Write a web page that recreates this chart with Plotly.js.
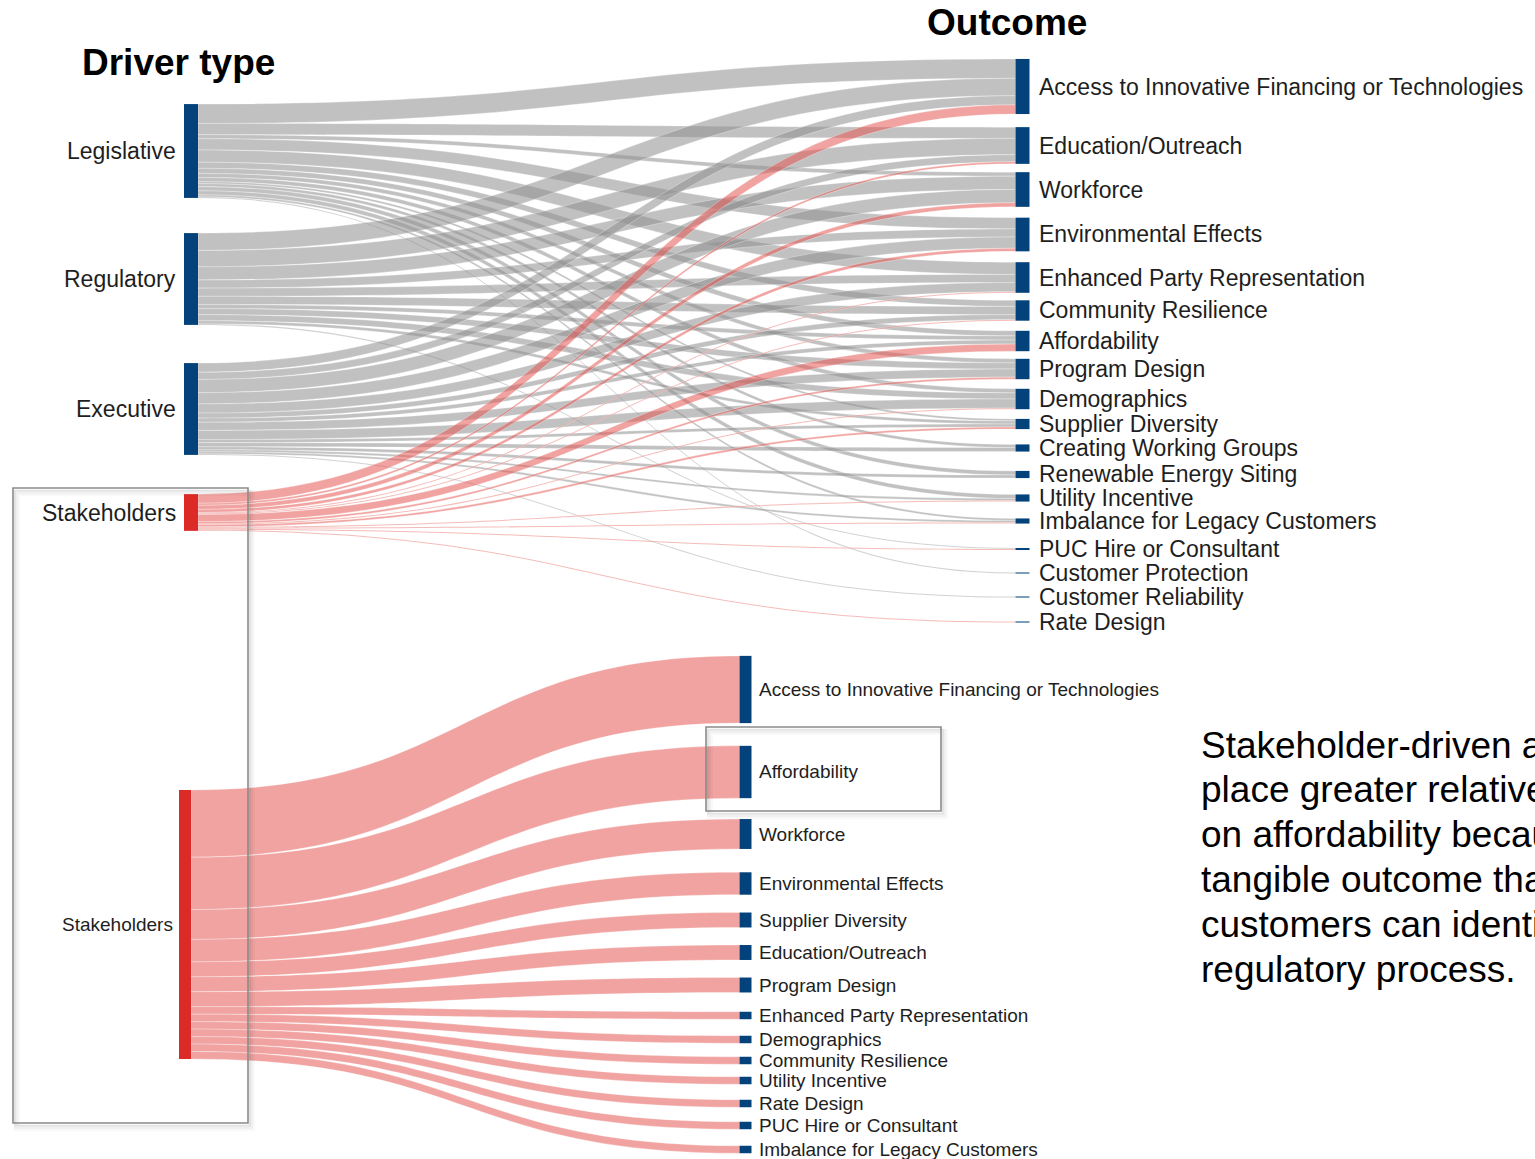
<!DOCTYPE html>
<html><head><meta charset="utf-8">
<script src="https://cdn.plot.ly/plotly-3.0.1.min.js"></script>
<style>html,body{margin:0;padding:0;background:#fff;overflow:hidden}#chart{width:1535px;height:1159px}</style>
</head><body><div id="chart"></div>
<script>
// ---------------- data ----------------
const drivers = ['Legislative', 'Regulatory', 'Executive', 'Stakeholders'];
const outcomesTop = [
  'Access to Innovative Financing or Technologies', 'Education/Outreach', 'Workforce',
  'Environmental Effects', 'Enhanced Party Representation', 'Community Resilience',
  'Affordability', 'Program Design', 'Demographics', 'Supplier Diversity',
  'Creating Working Groups', 'Renewable Energy Siting', 'Utility Incentive',
  'Imbalance for Legacy Customers', 'PUC Hire or Consultant', 'Customer Protection',
  'Customer Reliability', 'Rate Design'
];
// counts per outcome (same order as outcomesTop)
const legislativeCounts  = [19, 11, 4, 11, 12, 6, 5, 4, 4, 2, 3, 4, 4, 2, 0, 1, 0, 0];
const regulatoryCounts   = [17, 16, 13, 8, 8, 8, 4, 6, 6, 3, 0, 0, 0, 0, 1, 0, 0, 0];
const executiveCounts    = [9, 7, 13, 11, 9, 5, 4, 8, 9, 3, 4, 3, 2, 2, 0, 0, 1, 0];
const stakeholderCountsTop = [9, 2, 4, 3, 1, 1, 7, 2, 1, 2, 0, 0, 1, 1, 1, 0, 0, 1];

const stakeholderDriver = 'Stakeholders';
const outcomesBottom = [
  'Access to Innovative Financing or Technologies', 'Affordability', 'Workforce',
  'Environmental Effects', 'Supplier Diversity', 'Education/Outreach', 'Program Design',
  'Enhanced Party Representation', 'Demographics', 'Community Resilience',
  'Utility Incentive', 'Rate Design', 'PUC Hire or Consultant', 'Imbalance for Legacy Customers'
];
const stakeholderCountsBottom = [9, 7, 4, 3, 2, 2, 2, 1, 1, 1, 1, 1, 1, 1];

const titleLeft = 'Driver type';
const titleRight = 'Outcome';
const noteLines = [
  'Stakeholder-driven actions',
  'place greater relative emphasis',
  'on affordability because it is a',
  'tangible outcome that',
  'customers can identify in the',
  'regulatory process.'
];

// ---------------- layout geometry (pixels) ----------------
const W = 1535, H = 1159;
const FONT = 'Liberation Sans, Arial, Helvetica, sans-serif';
const BLUE = '#03427a', RED = '#dc2a27';
const GRAY_LINK = 'rgba(145,145,145,0.56)', PINK_LINK = 'rgba(228,88,82,0.55)';

const topBand = {top: 55, bottom: 630, leftX: 191, rightX: 1022.5, thick: 14, ky: 1.02};
const topDriverCenter = [151, 279, 409, 512.5];
const topOutcomeCenter = [86.5, 145.5, 189.5, 234.5, 277.5, 310.5, 341, 369, 399, 424,
                          448, 474.5, 498, 521, 549, 573, 597, 622];
const botBand = {top: 650, bottom: 1158, leftX: 185, rightX: 745.5, thick: 12, ky: 7.472};
const botDriverCenter = 924.5;
const botOutcomeCenter = [689.5, 772, 834, 883.5, 920, 952.5, 985, 1015.5, 1039.5, 1060.5,
                          1080.5, 1103.5, 1125.5, 1149.5];

const px2x = p => p / W;
const px2y = p => 1 - p / H;
const sum = a => a.reduce((s, v) => s + v, 0);

// ---------------- top sankey ----------------
const topRows = [legislativeCounts, regulatoryCounts, executiveCounts, stakeholderCountsTop];
const tSrc = [], tTgt = [], tVal = [], tCol = [];
topRows.forEach((row, i) => row.forEach((v, j) => {
  if (v > 0) { tSrc.push(i); tTgt.push(drivers.length + j); tVal.push(v); tCol.push(i === 3 ? PINK_LINK : GRAY_LINK); }
}));
const topBandH = topBand.bottom - topBand.top;
const topTotal = sum(tVal);
const topPad = (topBandH - topBand.ky * topTotal) / (outcomesTop.length - 1);
const topNodeX = drivers.map(() => topBand.leftX / W).concat(outcomesTop.map(() => topBand.rightX / W));
const topNodeY = topDriverCenter.concat(topOutcomeCenter).map(c => (c - topBand.top) / topBandH);
const topNodeColor = drivers.map(d => d === stakeholderDriver ? RED : BLUE).concat(outcomesTop.map(() => BLUE));

const topTrace = {
  type: 'sankey', arrangement: 'fixed', hoverinfo: 'none',
  domain: {x: [0, 1], y: [px2y(topBand.bottom), px2y(topBand.top)]},
  textfont: {size: 1, color: 'rgba(0,0,0,0)'},
  node: {label: drivers.concat(outcomesTop), x: topNodeX, y: topNodeY, pad: topPad,
         thickness: topBand.thick, color: topNodeColor, line: {width: 0}, hoverinfo: 'none'},
  link: {source: tSrc, target: tTgt, value: tVal, color: tCol,
         line: {color: 'rgba(255,255,255,0.6)', width: 0.5}, hoverinfo: 'none'}
};

// ---------------- bottom sankey ----------------
const bSrc = [], bTgt = [], bVal = [];
stakeholderCountsBottom.forEach((v, j) => { if (v > 0) { bSrc.push(0); bTgt.push(1 + j); bVal.push(v); } });
const botBandH = botBand.bottom - botBand.top;
const botTotal = sum(bVal);
const botPad = (botBandH - botBand.ky * botTotal) / (outcomesBottom.length - 1);
const botNodeX = [botBand.leftX / W].concat(outcomesBottom.map(() => botBand.rightX / W));
const botNodeY = [botDriverCenter].concat(botOutcomeCenter).map(c => (c - botBand.top) / botBandH);

const botTrace = {
  type: 'sankey', arrangement: 'fixed', hoverinfo: 'none',
  domain: {x: [0, 1], y: [px2y(botBand.bottom), px2y(botBand.top)]},
  textfont: {size: 1, color: 'rgba(0,0,0,0)'},
  node: {label: [stakeholderDriver].concat(outcomesBottom), x: botNodeX, y: botNodeY, pad: botPad,
         thickness: botBand.thick, color: [RED].concat(outcomesBottom.map(() => BLUE)),
         line: {width: 0}, hoverinfo: 'none'},
  link: {source: bSrc, target: bTgt, value: bVal, color: bVal.map(() => PINK_LINK),
         line: {color: 'rgba(255,255,255,0.6)', width: 0.5}, hoverinfo: 'none'}
};

// ---------------- annotations ----------------
const ann = [];
function label(text, xPx, yPx, anchor, size, extra) {
  ann.push(Object.assign({text: text, xref: 'paper', yref: 'paper', x: px2x(xPx), y: px2y(yPx),
    xanchor: anchor, yanchor: 'middle', showarrow: false, borderpad: 0, borderwidth: 0,
    font: {family: FONT, size: size, color: '#1e1e1e'}}, extra || {}));
}
drivers.forEach((d, i) => label(d, topBand.leftX - topBand.thick / 2 - 8, topDriverCenter[i], 'right', 23));
outcomesTop.forEach((o, i) => label(o, topBand.rightX + topBand.thick / 2 + 9, topOutcomeCenter[i], 'left', 23));
label(stakeholderDriver, botBand.leftX - botBand.thick / 2 - 6, botDriverCenter, 'right', 19);
outcomesBottom.forEach((o, i) => label(o, botBand.rightX + botBand.thick / 2 + 7, botOutcomeCenter[i], 'left', 19));
label('<b>' + titleLeft + '</b>', 82, 63, 'left', 37, {font: {family: FONT, size: 37, color: '#000'}});
label('<b>' + titleRight + '</b>', 927, 22, 'left', 37, {font: {family: FONT, size: 37, color: '#000'}});
noteLines.forEach((t, i) => label(t, 1201, 745 + i * 44.8, 'left', 37, {font: {family: FONT, size: 37, color: '#000'}}));

// ---------------- highlight boxes (with soft shadow) ----------------
const boxes = [{x0: 13, y0: 488, x1: 248, y1: 1123}, {x0: 706, y0: 727, x1: 941, y1: 811}];
const shapes = [];
boxes.forEach(b => {
  [[4, 5, 6, 0.025], [3, 4, 4, 0.035], [2, 2.5, 2, 0.05]].forEach(s => {
    shapes.push({type: 'rect', xref: 'paper', yref: 'paper', x0: px2x(b.x0 + s[0]), x1: px2x(b.x1 + s[0]),
      y0: px2y(b.y0 + s[1]), y1: px2y(b.y1 + s[1]), line: {color: 'rgba(0,0,0,' + s[3] + ')', width: s[2]}});
  });
  shapes.push({type: 'rect', xref: 'paper', yref: 'paper', x0: px2x(b.x0), x1: px2x(b.x1),
    y0: px2y(b.y0), y1: px2y(b.y1), line: {color: '#8a8a8a', width: 1.6}});
});

const layout = {
  width: W, height: H, margin: {l: 0, r: 0, t: 0, b: 0},
  paper_bgcolor: '#ffffff', plot_bgcolor: '#ffffff',
  font: {family: FONT}, showlegend: false,
  annotations: ann, shapes: shapes
};
Plotly.newPlot('chart', [topTrace, botTrace], layout, {staticPlot: true, displayModeBar: false});
</script>
</body></html>
